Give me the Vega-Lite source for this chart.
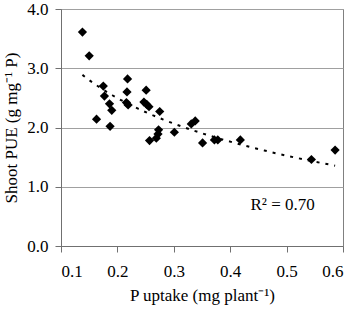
{
  "$schema": "https://vega.github.io/schema/vega-lite/v6.json",
  "autosize": "none",
  "width": 282,
  "height": 237,
  "padding": {"left": 61, "top": 9, "right": 12, "bottom": 66},
  "background": "white",
  "config": {
    "font": "Liberation Serif",
    "view": {"stroke": "#808080", "strokeWidth": 1},
    "axis": {
      "labelFont": "Liberation Serif",
      "titleFont": "Liberation Serif",
      "labelFontSize": 17,
      "titleFontSize": 17,
      "titleFontWeight": "normal",
      "labelColor": "#000",
      "titleColor": "#000",
      "domainColor": "#707070",
      "tickColor": "#707070",
      "tickSize": 6
    }
  },
  "data": {
    "values": [
      {"uptake": 0.138, "pue": 3.61},
      {"uptake": 0.150, "pue": 3.21},
      {"uptake": 0.163, "pue": 2.14},
      {"uptake": 0.175, "pue": 2.70},
      {"uptake": 0.177, "pue": 2.53},
      {"uptake": 0.186, "pue": 2.40},
      {"uptake": 0.190, "pue": 2.29},
      {"uptake": 0.187, "pue": 2.02},
      {"uptake": 0.218, "pue": 2.82},
      {"uptake": 0.217, "pue": 2.60},
      {"uptake": 0.216, "pue": 2.42},
      {"uptake": 0.219, "pue": 2.38},
      {"uptake": 0.251, "pue": 2.63},
      {"uptake": 0.247, "pue": 2.43},
      {"uptake": 0.252, "pue": 2.39},
      {"uptake": 0.256, "pue": 2.35},
      {"uptake": 0.275, "pue": 2.27},
      {"uptake": 0.273, "pue": 1.96},
      {"uptake": 0.272, "pue": 1.89},
      {"uptake": 0.269, "pue": 1.82},
      {"uptake": 0.257, "pue": 1.78},
      {"uptake": 0.301, "pue": 1.92},
      {"uptake": 0.331, "pue": 2.06},
      {"uptake": 0.338, "pue": 2.11},
      {"uptake": 0.351, "pue": 1.74},
      {"uptake": 0.372, "pue": 1.79},
      {"uptake": 0.378, "pue": 1.79},
      {"uptake": 0.418, "pue": 1.79},
      {"uptake": 0.544, "pue": 1.46},
      {"uptake": 0.586, "pue": 1.62}
    ]
  },
  "layer": [
    {
      "transform": [{"regression": "pue", "on": "uptake", "method": "log"}],
      "mark": {"type": "line", "color": "#000", "strokeWidth": 2, "strokeDash": [3, 6]},
      "encoding": {
        "x": {"field": "uptake", "type": "quantitative"},
        "y": {"field": "pue", "type": "quantitative"}
      }
    },
    {
      "mark": {"type": "point", "shape": "diamond", "filled": true, "color": "#000", "opacity": 1, "size": 85},
      "encoding": {
        "x": {
          "field": "uptake", "type": "quantitative",
          "scale": {"domain": [0.1, 0.6], "nice": false, "zero": false},
          "axis": {"values": [0.1, 0.2, 0.3, 0.4, 0.5, 0.6], "format": ".1f", "grid": false, "labelPadding": 11, "titlePadding": 8, "title": "P uptake (mg plant⁻¹)"}
        },
        "y": {
          "field": "pue", "type": "quantitative",
          "scale": {"domain": [0, 4], "nice": false},
          "axis": {"values": [0, 1, 2, 3, 4], "format": ".1f", "grid": true, "gridColor": "#a0a0a0", "labelPadding": 7, "titlePadding": 6, "title": "Shoot PUE (g mg⁻¹ P)"}
        }
      }
    },
    {
      "data": {"values": [{"label": "R² = 0.70"}]},
      "mark": {"type": "text", "font": "Liberation Serif", "fontSize": 17, "color": "#000", "align": "center", "baseline": "middle"},
      "encoding": {
        "text": {"field": "label", "type": "nominal"},
        "x": {"datum": 0.493},
        "y": {"datum": 0.7}
      }
    }
  ]
}
